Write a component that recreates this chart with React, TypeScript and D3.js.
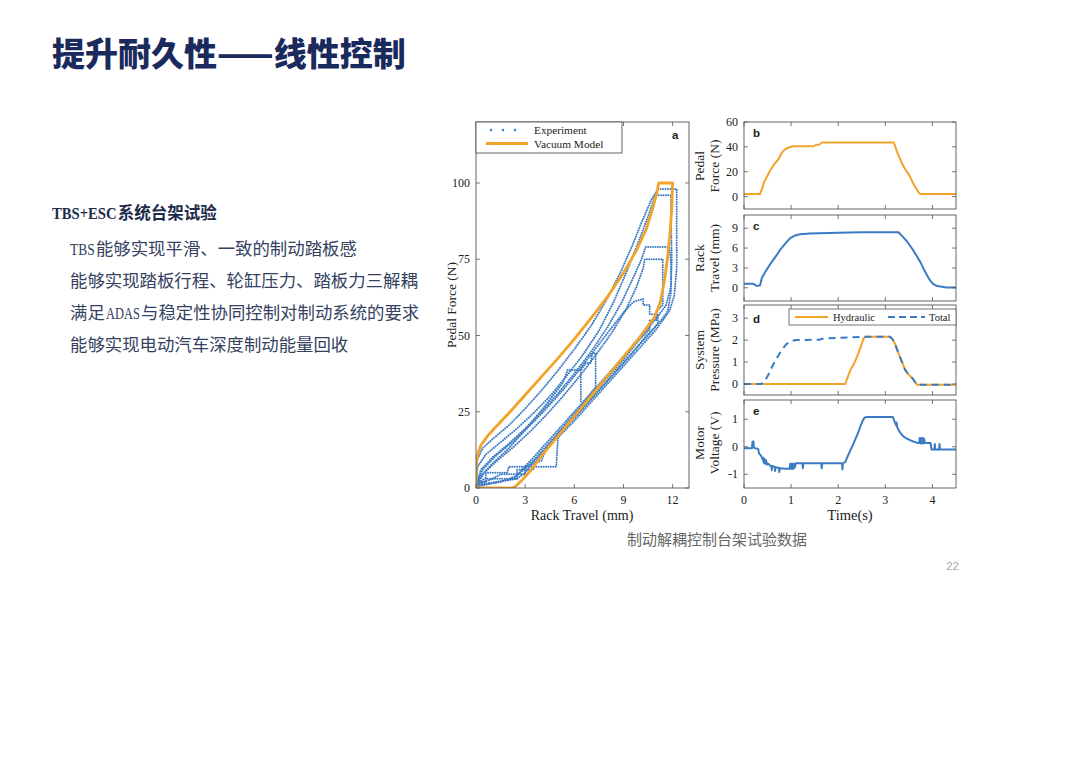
import React from "react";
import * as d3 from "d3";

type P = [number, number];

// ---------- Panel a data ----------
const aXTicks = [0, 3, 6, 9, 12];
const aYTicks = [0, 25, 50, 75, 100];

const vacuumModel: P[] = [
  [0, 0], [0, 7], [0.1, 11], [0.3, 14], [0.7, 17], [1.2, 20], [2, 24.5], [3, 30.5], [4, 36.5],
  [5, 42.5], [6, 48.8], [7, 55.5], [8, 62.5], [9, 70.5], [9.8, 78], [10.4, 85], [10.8, 92],
  [11.05, 97], [11.15, 100], [12.0, 100], [11.95, 92], [11.85, 84], [11.7, 76], [11.5, 68],
  [11.25, 61], [10.9, 56], [10, 49.5], [9, 43], [8, 36.5], [7, 30], [6, 23.5], [5, 17], [4, 10.5],
  [3.3, 5.5], [2.8, 2.5], [2.4, 0.5], [2.2, 0], [0, 0],
];

const expLoop1: P[] = [
  [0, 2], [0.05, 9], [0.4, 13], [1, 16], [2, 20.5], [3, 26], [4, 32], [5, 38.5], [6, 45.5], [7, 53],
  [8, 62], [8.8, 70.5], [9.5, 79], [10.1, 87], [10.7, 94.5], [11.1, 98], [12.25, 98], [12.25, 85],
  [12.25, 72], [12.1, 63], [11.8, 58], [11.4, 55], [11, 52], [10, 46], [9, 40], [8, 34], [7, 28],
  [6, 22], [5, 16.5], [4.9, 7], [2, 7], [1.9, 5], [0.6, 5], [0.6, 2], [0, 2],
];
const expLoop2: P[] = [
  [0, 1], [0.1, 7], [0.6, 11], [1.5, 15], [2.5, 19.5], [3.5, 24.5], [4.5, 30], [5.5, 36.5],
  [6.5, 43.5], [7.5, 51.5], [8.4, 61], [9.2, 71], [9.9, 80.5], [10.5, 89], [10.95, 96], [11.9, 96],
  [11.9, 88], [11.95, 75], [11.9, 66], [11.6, 60], [11.2, 57], [10.6, 53], [10, 49], [9, 42],
  [8, 36], [7, 30], [6, 24], [5, 18], [4.3, 13], [4, 9], [3, 7], [3, 4.5], [1.5, 4.5], [1, 3], [0, 1],
];
const expLoop3: P[] = [
  [0, 1], [0.3, 6], [1, 10], [2, 14.5], [3, 19.5], [4, 25], [5, 31], [6, 37.5], [7, 44.5],
  [8, 52.5], [8.9, 61], [9.6, 69], [10.1, 75], [10.35, 79], [11.8, 79], [11.9, 74], [11.9, 64],
  [11.7, 58], [11.3, 55], [10.8, 52], [10.4, 50], [9.5, 44], [8.5, 38], [7.5, 32], [6.5, 26],
  [5.5, 20], [4.5, 14], [3.5, 8.5], [3, 5], [2.5, 3], [0, 1],
];
const expLoop4: P[] = [
  [0, 0.5], [0.5, 5], [1.3, 9], [2.3, 13.5], [3.3, 18.5], [4.3, 24], [5.3, 30], [6.3, 36.5],
  [7.3, 43.5], [8.3, 51], [9.2, 59], [9.8, 66], [10.2, 72], [10.3, 75], [11.4, 75], [11.4, 68],
  [11.4, 60], [11.0, 58], [11.0, 55], [10.6, 55], [10.6, 52], [10.2, 50], [9.5, 46], [8.5, 40],
  [7.5, 34], [6.5, 28], [5.5, 22], [4.5, 16], [3.5, 10], [2.8, 6], [2.3, 3], [0, 0.5],
];
const expLoop5: P[] = [
  [0, 0.5], [0.3, 4], [1, 8], [2, 13], [3, 19], [4, 25.5], [4.8, 31], [5.3, 34.5], [5.6, 38.7],
  [6.4, 38.7], [6.7, 41], [7.0, 41], [7.1, 44.2], [7.3, 44.2], [7.3, 33], [6.5, 27.5], [5.5, 21],
  [4.5, 15], [3.5, 9], [2.5, 4], [1.5, 2], [0, 0.5],
];
const expLoop6: P[] = [
  [0, 1], [0.4, 6], [1.2, 10.5], [2.2, 15], [3.2, 20], [4.2, 25.5], [5.2, 31.5], [6.2, 38],
  [7.2, 45], [8.2, 52], [9, 57.5], [9.6, 61], [10.2, 62], [10.2, 60], [10.6, 60], [10.6, 57],
  [11.1, 57], [11.1, 54], [10.5, 50], [9.8, 46], [9, 41], [8, 35], [7, 29], [6, 23], [5, 17.5],
  [4, 11], [3.6, 8], [3.5, 6], [2.5, 6], [2.5, 3], [0.5, 3], [0, 1],
];
const expNotch: P[] = [[6.4, 38.7], [6.4, 27.8]];
const experimentLoops: P[][] = [expLoop1, expLoop2, expLoop3, expLoop4, expLoop5, expLoop6, expNotch];

// ---------- Right panels data ----------
const timeTicks = [0, 1, 2, 3, 4];
const bTicks = [0, 20, 40, 60];
const cTicks = [0, 3, 6, 9];
const dTicks = [0, 1, 2, 3];
const eTicks = [-1, 0, 1];

const pedalForce: P[] = [
  [0, 2], [0.34, 2], [0.38, 6], [0.43, 12], [0.5, 17], [0.55, 20.5], [0.64, 26], [0.73, 30],
  [0.8, 35], [0.87, 38], [0.95, 39.5], [1.05, 40.5], [1.48, 40.5], [1.52, 41.5], [1.6, 41.8],
  [1.65, 43.5], [3.18, 43.5], [3.25, 36], [3.35, 27], [3.42, 22], [3.5, 17.8], [3.6, 10],
  [3.71, 3], [3.76, 2], [4.5, 2],
];
const rackTravel: P[] = [
  [0, 0.6], [0.2, 0.6], [0.27, 0.3], [0.34, 0.35], [0.38, 1.5], [0.46, 2.5], [0.55, 3.5],
  [0.66, 4.6], [0.77, 5.75], [0.88, 6.7], [0.98, 7.5], [1.08, 7.9], [1.19, 8.1], [1.4, 8.2],
  [2.0, 8.3], [2.5, 8.4], [3.28, 8.4], [3.36, 7.8], [3.46, 7.0], [3.57, 5.9], [3.67, 4.75],
  [3.75, 3.8], [3.82, 2.75], [3.9, 1.7], [3.96, 1.0], [4.03, 0.5], [4.1, 0.25], [4.3, 0.05],
  [4.5, 0.05],
];
const hydraulic: P[] = [
  [0, 0], [2.15, 0], [2.2, 0.3], [2.26, 0.64], [2.33, 0.9], [2.4, 1.25], [2.47, 1.65],
  [2.54, 2.08], [2.58, 2.15], [3.1, 2.15], [3.15, 2.05], [3.2, 1.86], [3.28, 1.4], [3.35, 1.02],
  [3.42, 0.65], [3.5, 0.41], [3.58, 0.25], [3.67, -0.03], [4.5, -0.03],
];
const totalPressure: P[] = [
  [0, 0], [0.36, 0], [0.42, 0.08], [0.5, 0.35], [0.6, 0.8], [0.7, 1.2], [0.8, 1.55], [0.9, 1.82],
  [1.0, 1.95], [1.1, 2.0], [1.6, 2.02], [1.7, 2.08], [2.0, 2.1], [2.55, 2.15], [3.1, 2.15],
  [3.15, 2.05], [3.2, 1.86], [3.28, 1.4], [3.35, 1.02], [3.42, 0.65], [3.5, 0.41], [3.58, 0.25],
  [3.67, -0.03], [4.5, -0.03],
];
const motorVoltage: P[] = [
  [0, -0.05], [0.17, -0.05], [0.18, 0.18], [0.2, 0.2], [0.21, -0.02], [0.23, -0.05], [0.3, -0.08],
  [0.32, -0.25], [0.35, -0.3], [0.38, -0.38], [0.4, -0.48], [0.41, -0.4], [0.42, -0.58],
  [0.44, -0.45], [0.45, -0.62], [0.47, -0.5], [0.49, -0.65], [0.52, -0.62], [0.55, -0.68],
  [0.58, -0.7], [0.59, -0.85], [0.6, -0.7], [0.65, -0.73], [0.66, -0.88], [0.67, -0.74],
  [0.74, -0.77], [0.75, -0.92], [0.76, -0.78], [0.9, -0.8], [0.97, -0.8], [0.98, -0.62],
  [0.99, -0.8], [1.0, -0.62], [1.01, -0.8], [1.02, -0.62], [1.03, -0.8], [1.04, -0.62],
  [1.05, -0.8], [1.06, -0.62], [1.08, -0.75], [1.1, -0.6], [1.24, -0.6], [1.25, -0.78],
  [1.26, -0.6], [1.64, -0.6], [1.65, -0.78], [1.66, -0.6], [2.08, -0.6], [2.09, -0.82],
  [2.1, -0.6], [2.15, -0.55], [2.2, -0.35], [2.26, -0.12], [2.3, 0.02], [2.36, 0.26], [2.42, 0.5],
  [2.47, 0.74], [2.52, 0.95], [2.56, 1.06], [2.62, 1.08], [3.16, 1.08], [3.2, 0.9], [3.23, 0.78],
  [3.24, 0.88], [3.25, 0.72], [3.3, 0.55], [3.38, 0.38], [3.45, 0.3], [3.55, 0.22], [3.68, 0.14],
  [3.72, 0.14], [3.73, 0.32], [3.75, 0.12], [3.76, 0.32], [3.78, 0.12], [3.79, 0.32],
  [3.81, 0.12], [3.82, 0.3], [3.84, 0.14], [3.96, 0.14], [3.98, -0.1], [4.04, -0.1], [4.05, 0.1],
  [4.06, -0.1], [4.14, -0.1], [4.15, 0.1], [4.16, -0.1], [4.5, -0.1],
];

// ---------- Text ----------
const titleText = "提升耐久性——线性控制";
const subHeading = "TBS+ESC系统台架试验";
const bulletLines = [
  "TBS能够实现平滑、一致的制动踏板感",
  "能够实现踏板行程、轮缸压力、踏板力三解耦",
  "满足ADAS与稳定性协同控制对制动系统的要求",
  "能够实现电动汽车深度制动能量回收",
];
const captionText = "制动解耦控制台架试验数据";
const pageNumber = "22";

const ORANGE = "#f1a32a";
const BLUE = "#3b7bc4";
const SERIF = "'Liberation Serif', 'DejaVu Serif', serif";
const SANS = "'Liberation Sans', Arial, sans-serif";
const CJK = "'Noto Sans CJK SC', sans-serif";

// approximate advance widths (em) of Liberation Serif capitals, used to squeeze Latin runs
const serifWidths: Record<string, number> = { A: 0.722, B: 0.667, C: 0.667, D: 0.722, E: 0.611, S: 0.556, T: 0.611, "+": 0.564 };

type Lin = d3.ScaleLinear<number, number>;

function splitRuns(s: string): { t: string; latin: boolean }[] {
  const out: { t: string; latin: boolean }[] = [];
  for (const ch of s) {
    const latin = ch.charCodeAt(0) < 128;
    const last = out[out.length - 1];
    if (last && last.latin === latin) last.t += ch;
    else out.push({ t: ch, latin });
  }
  return out;
}

function MixedText({ x, y, s, fs, latinEm, weight, fill }: { x: number; y: number; s: string; fs: number; latinEm: number; weight: number; fill: string }) {
  let cx = x;
  const gap = 1.2;
  const runs = splitRuns(s);
  const parts = runs.map((r, i) => {
    if (r.latin) {
      const w = r.t.length * latinEm * fs - 2 * gap;
      const natural = Array.from(r.t).reduce((a, c) => a + (serifWidths[c] ?? 0.6), 0) * fs * (weight > 500 ? 1.04 : 1);
      const k = w / natural;
      const el = (
        <text key={i} transform={`translate(${cx + (i > 0 ? gap : 0)},${y}) scale(${k},1)`} fontSize={fs} fontWeight={weight} fontFamily={SERIF} fill={fill}>
          {r.t}
        </text>
      );
      cx += w + (i > 0 ? gap : 0) + gap;
      return el;
    }
    const el = (
      <text key={i} x={cx} y={y} fontSize={fs} fontWeight={weight} fontFamily={CJK} fill={fill}>
        {r.t}
      </text>
    );
    cx += r.t.length * fs;
    return el;
  });
  return <g>{parts}</g>;
}

function Frame({ x, y, xTicks, yTicks, showXLabels }: { x: Lin; y: Lin; xTicks: number[]; yTicks: number[]; showXLabels: boolean }) {
  const [x0, x1] = x.range();
  const [y0, y1] = y.range();
  const tl = 4;
  return (
    <g>
      <rect x={x0} y={y1} width={x1 - x0} height={y0 - y1} fill="none" stroke="#555" strokeWidth={0.9} />
      {xTicks.map((t) => (
        <g key={"x" + t}>
          <line x1={x(t)} x2={x(t)} y1={y0} y2={y0 - tl} stroke="#555" strokeWidth={0.8} />
          <line x1={x(t)} x2={x(t)} y1={y1} y2={y1 + tl} stroke="#555" strokeWidth={0.8} />
          {showXLabels && (
            <text x={x(t)} y={y0 + 16} textAnchor="middle" fontSize={12} fontFamily={SERIF} fill="#222">
              {t}
            </text>
          )}
        </g>
      ))}
      {yTicks.map((t) => (
        <g key={"y" + t}>
          <line x1={x0} x2={x0 + tl} y1={y(t)} y2={y(t)} stroke="#555" strokeWidth={0.8} />
          <line x1={x1} x2={x1 - tl} y1={y(t)} y2={y(t)} stroke="#555" strokeWidth={0.8} />
          <text x={x0 - 6} y={y(t) + 4} textAnchor="end" fontSize={12} fontFamily={SERIF} fill="#222">
            {t < 0 ? "-" + Math.abs(t) : t}
          </text>
        </g>
      ))}
    </g>
  );
}

function PanelLetter({ x, y, s }: { x: number; y: number; s: string }) {
  return (
    <text x={x} y={y} fontSize={11.5} fontWeight="bold" fontFamily={SANS} fill="#222">
      {s}
    </text>
  );
}

function YLabel2({ x, cy, l1, l2 }: { x: number; cy: number; l1: string; l2: string }) {
  return (
    <g>
      <text transform={`translate(${x},${cy}) rotate(-90)`} textAnchor="middle" fontSize={13.5} fontFamily={SERIF} fill="#222">
        {l1}
      </text>
      <text transform={`translate(${x + 15},${cy}) rotate(-90)`} textAnchor="middle" fontSize={13.5} fontFamily={SERIF} fill="#222">
        {l2}
      </text>
    </g>
  );
}

export default function App() {
  const ax = d3.scaleLinear().domain([0, 13]).range([476, 689]);
  const ay = d3.scaleLinear().domain([0, 120]).range([488, 122]);
  const aLine = d3.line<P>().x((d) => ax(d[0])).y((d) => ay(d[1]));

  const tx = d3.scaleLinear().domain([0, 4.5]).range([744, 956]);
  const by = d3.scaleLinear().domain([-10, 60]).range([209, 122]);
  const cy = d3.scaleLinear().domain([-2, 11]).range([301, 215]);
  const dy = d3.scaleLinear().domain([-0.5, 3.6]).range([395, 305]);
  const ey = d3.scaleLinear().domain([-1.5, 1.7]).range([488, 400]);
  const mk = (ys: Lin) => d3.line<P>().x((d) => tx(d[0])).y((d) => ys(d[1]));

  return (
    <div style={{ position: "absolute", left: 0, top: 0, width: 1080, height: 764, background: "#fff" }}>
      <svg width={1080} height={764} viewBox="0 0 1080 764" style={{ display: "block" }}>
        <rect x={0} y={0} width={1080} height={764} fill="#fff" />
        <text x={52} y={66} fontSize={33} fontWeight={900} fontFamily={CJK} fill="#1b2a5c">
          {titleText}
        </text>
        <MixedText x={52} y={219} s={subHeading} fs={16.5} latinEm={0.58} weight={700} fill="#1e2b4a" />
        {bulletLines.map((s, i) => (
          <MixedText key={i} x={70} y={255 + i * 32} s={s} fs={17.4} latinEm={0.52} weight={400} fill="#34425f" />
        ))}

        {/* Panel a */}
        <g>
          <defs>
            <clipPath id="clipA">
              <rect x={476} y={122} width={213} height={366} />
            </clipPath>
          </defs>
          <g clipPath="url(#clipA)">
            {experimentLoops.map((loop, i) => (
              <path key={i} d={aLine(loop) || ""} fill="none" stroke={BLUE} strokeWidth={2} strokeDasharray="0.01 2.4" strokeLinecap="round" />
            ))}
            <path d={aLine(vacuumModel) || ""} fill="none" stroke={ORANGE} strokeWidth={2.8} strokeLinejoin="round" />
          </g>
          <Frame x={ax} y={ay} xTicks={aXTicks} yTicks={aYTicks} showXLabels={true} />
          <rect x={476} y={122} width={146} height={31} fill="#fff" stroke="#555" strokeWidth={0.9} />
          <path d="M491,130 L516,130" stroke={BLUE} strokeWidth={2.4} strokeDasharray="0.01 12" strokeLinecap="round" />
          <text x={534} y={133.5} fontSize={11.3} fontFamily={SERIF} fill="#222">Experiment</text>
          <line x1={486} x2={528} y1={143.5} y2={143.5} stroke={ORANGE} strokeWidth={2.8} />
          <text x={534} y={147.5} fontSize={11.3} fontFamily={SERIF} fill="#222">Vacuum Model</text>
          <PanelLetter x={672} y={139} s="a" />
          <text transform="translate(456,305) rotate(-90)" textAnchor="middle" fontSize={13.5} fontFamily={SERIF} fill="#222">
            Pedal Force (N)
          </text>
          <text x={582} y={520} textAnchor="middle" fontSize={14} fontFamily={SERIF} fill="#222">
            Rack Travel (mm)
          </text>
        </g>

        {/* Panel b */}
        <path d={mk(by)(pedalForce) || ""} fill="none" stroke={ORANGE} strokeWidth={2} strokeLinejoin="round" />
        <Frame x={tx} y={by} xTicks={timeTicks} yTicks={bTicks} showXLabels={false} />
        <PanelLetter x={753} y={137} s="b" />
        <YLabel2 x={704} cy={166} l1="Pedal" l2="Force (N)" />

        {/* Panel c */}
        <path d={mk(cy)(rackTravel) || ""} fill="none" stroke={BLUE} strokeWidth={2} strokeLinejoin="round" />
        <Frame x={tx} y={cy} xTicks={timeTicks} yTicks={cTicks} showXLabels={false} />
        <PanelLetter x={753} y={230} s="c" />
        <YLabel2 x={704} cy={258} l1="Rack" l2="Travel (mm)" />

        {/* Panel d */}
        <path d={mk(dy)(hydraulic) || ""} fill="none" stroke={ORANGE} strokeWidth={2} strokeLinejoin="round" />
        <path d={mk(dy)(totalPressure) || ""} fill="none" stroke={BLUE} strokeWidth={2} strokeDasharray="7 5" />
        <Frame x={tx} y={dy} xTicks={timeTicks} yTicks={dTicks} showXLabels={false} />
        <PanelLetter x={753} y={323} s="d" />
        <rect x={789} y={309} width={167} height={16} fill="#fff" stroke="#555" strokeWidth={0.8} />
        <line x1={795} x2={828} y1={317} y2={317} stroke={ORANGE} strokeWidth={2} />
        <text x={833} y={320.5} fontSize={10.5} fontFamily={SERIF} fill="#222">Hydraulic</text>
        <line x1={888} x2={925} y1={317} y2={317} stroke={BLUE} strokeWidth={2} strokeDasharray="7 4" />
        <text x={929} y={320.5} fontSize={10.5} fontFamily={SERIF} fill="#222">Total</text>
        <YLabel2 x={704} cy={350} l1="System" l2="Pressure (MPa)" />

        {/* Panel e */}
        <path d={mk(ey)(motorVoltage) || ""} fill="none" stroke={BLUE} strokeWidth={2} strokeLinejoin="round" />
        <Frame x={tx} y={ey} xTicks={timeTicks} yTicks={eTicks} showXLabels={true} />
        <PanelLetter x={753} y={415} s="e" />
        <YLabel2 x={704} cy={443} l1="Motor" l2="Voltage (V)" />
        <text x={850} y={520} textAnchor="middle" fontSize={14.5} fontFamily={SERIF} fill="#222">
          Time(s)
        </text>

        <text x={627} y={545} fontSize={15} fontFamily={CJK} fill="#666">
          {captionText}
        </text>
        <text x={959} y={570} textAnchor="end" fontSize={11.5} fontFamily={SANS} fill="#aaa">
          {pageNumber}
        </text>
      </svg>
    </div>
  );
}
